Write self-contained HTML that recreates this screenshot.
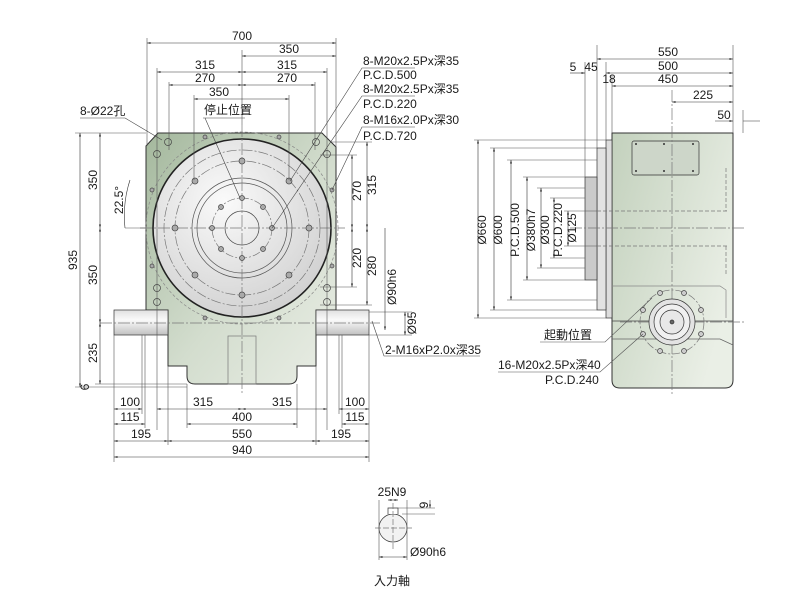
<!DOCTYPE html>
<html><head><meta charset="utf-8"><style>
html,body{margin:0;padding:0;background:#fff}
svg{display:block}
text{font-family:"Liberation Sans","Noto Sans CJK TC",sans-serif;font-size:12px;fill:#1a1a1a}
</style></head><body>
<svg width="800" height="609" viewBox="0 0 800 609" xmlns="http://www.w3.org/2000/svg">
<defs>
<linearGradient id="g" x1="0" y1="0" x2="1" y2="1"><stop offset="0" stop-color="#a4b89d"/><stop offset="0.55" stop-color="#d3ddce"/><stop offset="1" stop-color="#eaeee6"/></linearGradient>
<linearGradient id="gs" x1="0" y1="0" x2="1" y2="0.6"><stop offset="0" stop-color="#c3d1bd"/><stop offset="1" stop-color="#eaefe6"/></linearGradient>
<radialGradient id="c" cx="0.4" cy="0.35" r="0.7"><stop offset="0" stop-color="#fafafa"/><stop offset="1" stop-color="#d0d0d0"/></radialGradient>
<linearGradient id="sh" x1="0" y1="0" x2="0" y2="1"><stop offset="0" stop-color="#e0e0e0"/><stop offset="0.4" stop-color="#fafafa"/><stop offset="1" stop-color="#c0c0c0"/></linearGradient>
<marker id="a" viewBox="0 0 10 10" refX="10" refY="5" markerWidth="6" markerHeight="6" orient="auto-start-reverse"><path d="M0,2 L10,5 L0,8z" fill="#333"/></marker>
</defs>
<g stroke="#333" stroke-width="0.7" fill="none">
<path d="M158,133 L322,133 L336,147 L336,310 L316,310 L316,366 L297,366 L297,376 Q297,384 289,384 L195,384 Q187,384 187,376 L187,366 L168,366 L168,310 L146,310 L146,146 Z" fill="url(#g)" stroke="#333" stroke-width="1"/>
<rect x="114" y="310" width="54" height="25" fill="url(#sh)"/>
<rect x="316" y="310" width="53" height="25" fill="url(#sh)"/>
<rect x="228" y="336" width="28" height="48" stroke="#777"/>
<circle cx="242" cy="228" r="89" fill="url(#c)" stroke="#222" stroke-width="1.6"/>
<circle cx="242" cy="228" r="96" stroke="#888" stroke-dasharray="3,2"/>
<circle cx="242" cy="228" r="78" stroke="#777" stroke-dasharray="10,2,2,2"/>
<circle cx="242" cy="228" r="67" stroke="#777" stroke-dasharray="10,2,2,2"/>
<circle cx="242" cy="228" r="50" stroke="#555"/>
<circle cx="242" cy="228" r="45" stroke="#555"/>
<circle cx="242" cy="228" r="30" stroke="#777" stroke-dasharray="8,2,2,2"/>
<circle cx="242" cy="228" r="17" stroke="#444"/>
<g stroke="#777" stroke-dasharray="12,2,2,2"><line x1="140" y1="228" x2="345" y2="228"/><line x1="242" y1="125" x2="242" y2="395"/><line x1="100" y1="323" x2="380" y2="323"/></g>
<g fill="#aaa" stroke="#444">
<circle cx="242" cy="161" r="3"/><circle cx="242" cy="295" r="3"/><circle cx="175" cy="228" r="3"/><circle cx="309" cy="228" r="3"/>
<circle cx="195" cy="181" r="3"/><circle cx="289" cy="181" r="3"/><circle cx="195" cy="275" r="3"/><circle cx="289" cy="275" r="3"/>
<circle cx="242" cy="198" r="2.5"/><circle cx="242" cy="258" r="2.5"/><circle cx="212" cy="228" r="2.5"/><circle cx="272" cy="228" r="2.5"/>
<circle cx="221" cy="207" r="2.5"/><circle cx="263" cy="207" r="2.5"/><circle cx="221" cy="249" r="2.5"/><circle cx="263" cy="249" r="2.5"/>
<circle cx="205" cy="137" r="2"/><circle cx="279" cy="137" r="2"/><circle cx="152" cy="190" r="2"/><circle cx="332" cy="190" r="2"/>
<circle cx="152" cy="266" r="2"/><circle cx="332" cy="266" r="2"/><circle cx="205" cy="318" r="2"/><circle cx="279" cy="318" r="2"/>
</g>
<g stroke="#444"><circle cx="168" cy="142" r="3.5"/><circle cx="316" cy="142" r="3.5"/><circle cx="157" cy="154" r="3.5"/><circle cx="327" cy="154" r="3.5"/><circle cx="157" cy="288" r="3.5"/><circle cx="327" cy="288" r="3.5"/><circle cx="157" cy="302" r="3.5"/><circle cx="327" cy="302" r="3.5"/></g>
<g stroke="#555" stroke-width="0.6">
<line x1="147" y1="38" x2="147" y2="146"/><line x1="336" y1="38" x2="336" y2="147"/>
<line x1="157" y1="68" x2="157" y2="430"/><line x1="327" y1="68" x2="327" y2="430"/>
<line x1="169" y1="82" x2="169" y2="150"/><line x1="315" y1="82" x2="315" y2="150"/>
<line x1="194" y1="95" x2="194" y2="180"/><line x1="289" y1="95" x2="289" y2="180"/>
<line x1="242" y1="50" x2="242" y2="125"/>
<line x1="114" y1="335" x2="114" y2="462"/><line x1="369" y1="335" x2="369" y2="462"/>
<line x1="142" y1="335" x2="142" y2="414"/><line x1="145" y1="335" x2="145" y2="428"/>
<line x1="168" y1="366" x2="168" y2="445"/><line x1="316" y1="366" x2="316" y2="445"/>
<line x1="187" y1="384" x2="187" y2="428"/><line x1="297" y1="384" x2="297" y2="428"/>
<line x1="339" y1="335" x2="339" y2="414"/><line x1="342" y1="335" x2="342" y2="428"/>
<line x1="75" y1="133" x2="146" y2="133"/><line x1="75" y1="387" x2="187" y2="387"/><line x1="95" y1="384" x2="187" y2="384"/>
<line x1="330" y1="142" x2="372" y2="142"/><line x1="320" y1="155" x2="357" y2="155"/><line x1="320" y1="287" x2="357" y2="287"/><line x1="320" y1="305" x2="372" y2="305"/>
<line x1="369" y1="312" x2="412" y2="312"/><line x1="369" y1="335" x2="412" y2="335"/>
</g>
<g stroke="#333" stroke-width="0.6" marker-start="url(#a)" marker-end="url(#a)">
<line x1="147" y1="43" x2="336" y2="43"/><line x1="242" y1="56" x2="336" y2="56"/>
<line x1="157" y1="72" x2="242" y2="72"/><line x1="242" y1="72" x2="327" y2="72"/>
<line x1="169" y1="85" x2="242" y2="85"/><line x1="242" y1="85" x2="315" y2="85"/>
<line x1="194" y1="99" x2="289" y2="99"/>
<line x1="80" y1="133" x2="80" y2="387"/><line x1="100" y1="133" x2="100" y2="228"/><line x1="100" y1="228" x2="100" y2="323"/><line x1="100" y1="323" x2="100" y2="384"/>
<line x1="367" y1="142" x2="367" y2="228"/><line x1="352" y1="155" x2="352" y2="228"/><line x1="352" y1="228" x2="352" y2="287"/><line x1="367" y1="228" x2="367" y2="305"/>
<line x1="405" y1="312" x2="405" y2="335"/>
<line x1="114" y1="409" x2="142" y2="409"/><line x1="157" y1="409" x2="242" y2="409"/><line x1="242" y1="409" x2="327" y2="409"/><line x1="339" y1="409" x2="369" y2="409"/>
<line x1="114" y1="424" x2="145" y2="424"/><line x1="187" y1="424" x2="297" y2="424"/><line x1="342" y1="424" x2="369" y2="424"/>
<line x1="114" y1="441" x2="168" y2="441"/><line x1="168" y1="441" x2="316" y2="441"/><line x1="316" y1="441" x2="369" y2="441"/>
<line x1="114" y1="457" x2="369" y2="457"/>
</g>
<line x1="385" y1="228" x2="385" y2="330" stroke="#333" stroke-width="0.6" marker-end="url(#a)"/>
<path d="M130,180 A115,115 0 0 0 125,228" stroke="#333" stroke-width="0.6"/>
<line x1="125" y1="228" x2="146" y2="228" stroke="#555" stroke-width="0.6"/>
<g stroke="#444" stroke-width="0.6">
<path d="M80,118 L125,118 L162,140"/><path d="M203,118 L245,118 M205,118 L240,198"/>
<path d="M415,68 L362,68 L290,181"/><path d="M415,96 L362,96 L272,228"/><path d="M415,127 L362,127 L332,190"/>
<path d="M372,321 L384,356 L480,356"/>
</g>
<path d="M612,133 L733,133 L733,380 Q733,388 725,388 L620,388 Q612,388 612,380 Z" fill="url(#gs)" stroke="#333" stroke-width="1"/>
<line x1="612" y1="321" x2="733" y2="321" stroke="#444"/>
<path d="M612,339 L720,339 L733,345" stroke="#666"/>
<rect x="606" y="140" width="6" height="178" fill="#ddd"/>
<rect x="597" y="148" width="9" height="162" fill="#e2e2e2"/>
<rect x="585" y="177" width="12" height="103" fill="#cacaca"/>
<rect x="632" y="141" width="67" height="34" rx="2" fill="#cdd6c9"/>
<g fill="#333" stroke="none"><circle cx="636" cy="144" r="1"/><circle cx="664" cy="144" r="1"/><circle cx="693" cy="144" r="1"/><circle cx="636" cy="171" r="1"/><circle cx="664" cy="171" r="1"/><circle cx="693" cy="171" r="1"/></g>
<g stroke="#777" stroke-dasharray="4,2"><line x1="597" y1="211" x2="728" y2="211"/><line x1="597" y1="246" x2="728" y2="246"/><line x1="726" y1="168" x2="726" y2="211"/><line x1="726" y1="246" x2="726" y2="276"/></g>
<path d="M612,286 L720,286 L726,290 L726,318" stroke="#888"/>
<line x1="570" y1="228" x2="745" y2="228" stroke="#777" stroke-dasharray="12,2,2,2"/>
<line x1="672" y1="90" x2="672" y2="395" stroke="#777" stroke-dasharray="12,2,2,2"/>
<line x1="620" y1="322" x2="745" y2="322" stroke="#777" stroke-dasharray="12,2,2,2"/>
<circle cx="672" cy="322" r="32" stroke="#777" stroke-dasharray="8,2,2,2"/>
<circle cx="672" cy="322" r="23" fill="#e3e3e3" stroke="#333"/>
<circle cx="672" cy="322" r="18" fill="#f0f0f0" stroke="#333"/>
<circle cx="672" cy="322" r="12" fill="#e8e8e8" stroke="#333"/>
<circle cx="672" cy="322" r="2" fill="#666"/>
<g fill="#ccc" stroke="#444">
<circle cx="660" cy="293" r="2.5"/><circle cx="684" cy="293" r="2.5"/><circle cx="701" cy="310" r="2.5"/><circle cx="701" cy="334" r="2.5"/><circle cx="684" cy="351" r="2.5"/><circle cx="660" cy="351" r="2.5"/><circle cx="643" cy="334" r="2.5"/><circle cx="643" cy="310" r="2.5"/>
</g>
<g stroke="#555" stroke-width="0.6">
<line x1="597" y1="45" x2="597" y2="148"/><line x1="733" y1="45" x2="733" y2="133"/><line x1="585" y1="62" x2="585" y2="177"/><line x1="606" y1="62" x2="606" y2="140"/><line x1="612" y1="75" x2="612" y2="133"/>
<line x1="474" y1="140" x2="606" y2="140"/><line x1="474" y1="318" x2="606" y2="318"/><line x1="490" y1="148" x2="597" y2="148"/><line x1="490" y1="310" x2="597" y2="310"/>
<line x1="507" y1="160" x2="597" y2="160"/><line x1="507" y1="300" x2="597" y2="300"/><line x1="523" y1="177" x2="585" y2="177"/><line x1="523" y1="280" x2="585" y2="280"/>
<line x1="537" y1="188" x2="585" y2="188"/><line x1="537" y1="268" x2="585" y2="268"/><line x1="550" y1="198" x2="585" y2="198"/><line x1="550" y1="258" x2="585" y2="258"/><line x1="564" y1="211" x2="597" y2="211"/><line x1="564" y1="246" x2="597" y2="246"/>
<path d="M540,342 L605,342 L652,298"/><path d="M498,372 L600,372 L643,334"/>
</g>
<g stroke="#333" stroke-width="0.6" marker-start="url(#a)" marker-end="url(#a)">
<line x1="597" y1="59" x2="733" y2="59"/><line x1="606" y1="73" x2="733" y2="73"/><line x1="612" y1="86" x2="733" y2="86"/><line x1="672" y1="102" x2="733" y2="102"/>
<line x1="478" y1="140" x2="478" y2="318"/><line x1="494" y1="148" x2="494" y2="310"/><line x1="511" y1="160" x2="511" y2="300"/><line x1="527" y1="177" x2="527" y2="280"/><line x1="541" y1="188" x2="541" y2="268"/><line x1="554" y1="198" x2="554" y2="258"/><line x1="568" y1="211" x2="568" y2="246"/>
</g>
<line x1="715" y1="121" x2="733" y2="121" stroke="#333" stroke-width="0.6" marker-end="url(#a)"/><line x1="760" y1="121" x2="743" y2="121" stroke="#333" stroke-width="0.6"/>
<line x1="743" y1="110" x2="743" y2="133" stroke="#555" stroke-width="0.6"/>
<line x1="570" y1="73" x2="585" y2="73" stroke="#333" stroke-width="0.6" marker-end="url(#a)"/>
<circle cx="393" cy="528" r="14" fill="#f2f2f2" stroke="#333"/>
<path d="M388,514 L388,508 L398,508 L398,514" fill="#fff" stroke="#333"/>
<line x1="375" y1="528" x2="412" y2="528" stroke="#777" stroke-dasharray="6,2"/><line x1="393" y1="503" x2="393" y2="550" stroke="#777" stroke-dasharray="6,2"/>
<g stroke="#555" stroke-width="0.6"><line x1="379" y1="500" x2="379" y2="560"/><line x1="407" y1="500" x2="407" y2="560"/><line x1="398" y1="508" x2="435" y2="508"/><line x1="402" y1="514" x2="435" y2="514"/></g>
<g stroke="#333" stroke-width="0.6" marker-start="url(#a)" marker-end="url(#a)"><line x1="388" y1="500" x2="398" y2="500"/><line x1="379" y1="557" x2="407" y2="557"/></g>
<line x1="430" y1="500" x2="430" y2="508" stroke="#333" stroke-width="0.6" marker-end="url(#a)"/>
</g>
<g text-anchor="middle">
<text x="242" y="40">700</text><text x="289" y="53">350</text><text x="205" y="69">315</text><text x="287" y="69">315</text><text x="205" y="82">270</text><text x="287" y="82">270</text><text x="219" y="96">350</text>
<text x="130" y="406">100</text><text x="203" y="406">315</text><text x="282" y="406">315</text><text x="355" y="406">100</text>
<text x="130" y="421">115</text><text x="242" y="421">400</text><text x="355" y="421">115</text>
<text x="141" y="438">195</text><text x="242" y="438">550</text><text x="341" y="438">195</text><text x="242" y="454">940</text>
<text x="668" y="56">550</text><text x="668" y="70">500</text><text x="668" y="83">450</text><text x="703" y="99">225</text><text x="724" y="119">50</text>
<text x="573" y="71">5</text><text x="591" y="71">45</text><text x="609" y="83">18</text>
<text x="392" y="496">25N9</text>
</g>
<g text-anchor="middle">
<text transform="translate(77,260) rotate(-90)">935</text>
<text transform="translate(97,180) rotate(-90)">350</text>
<text transform="translate(97,275) rotate(-90)">350</text>
<text transform="translate(97,353) rotate(-90)">235</text>
<text transform="translate(89,387) rotate(-90)">6</text>
<text transform="translate(123,200) rotate(-90)">22.5°</text>
<text transform="translate(376,185) rotate(-90)">315</text>
<text transform="translate(361,191) rotate(-90)">270</text>
<text transform="translate(361,258) rotate(-90)">220</text>
<text transform="translate(376,266) rotate(-90)">280</text>
<text transform="translate(396,287) rotate(-90)">Ø90h6</text>
<text transform="translate(416,323) rotate(-90)">Ø95</text>
<text transform="translate(486,230) rotate(-90)">Ø660</text>
<text transform="translate(502,230) rotate(-90)">Ø600</text>
<text transform="translate(519,230) rotate(-90)">P.C.D.500</text>
<text transform="translate(535,230) rotate(-90)">Ø380h7</text>
<text transform="translate(549,230) rotate(-90)">Ø300</text>
<text transform="translate(562,230) rotate(-90)">P.C.D.220</text>
<text transform="translate(576,228) rotate(-90)">Ø125</text>
<text transform="translate(428,505) rotate(-90)">9</text>
</g>
<text x="363" y="65">8-M20x2.5Px深35</text><text x="363" y="79">P.C.D.500</text>
<text x="363" y="93">8-M20x2.5Px深35</text><text x="363" y="108">P.C.D.220</text>
<text x="363" y="124">8-M16x2.0Px深30</text><text x="363" y="140">P.C.D.720</text>
<text x="80" y="115">8-Ø22孔</text><text x="204" y="114">停止位置</text>
<text x="385" y="354">2-M16xP2.0x深35</text>
<text x="544" y="339">起動位置</text><text x="498" y="369">16-M20x2.5Px深40</text><text x="545" y="384">P.C.D.240</text>
<text x="410" y="556">Ø90h6</text><text x="374" y="585">入力軸</text>
</svg>
</body></html>
